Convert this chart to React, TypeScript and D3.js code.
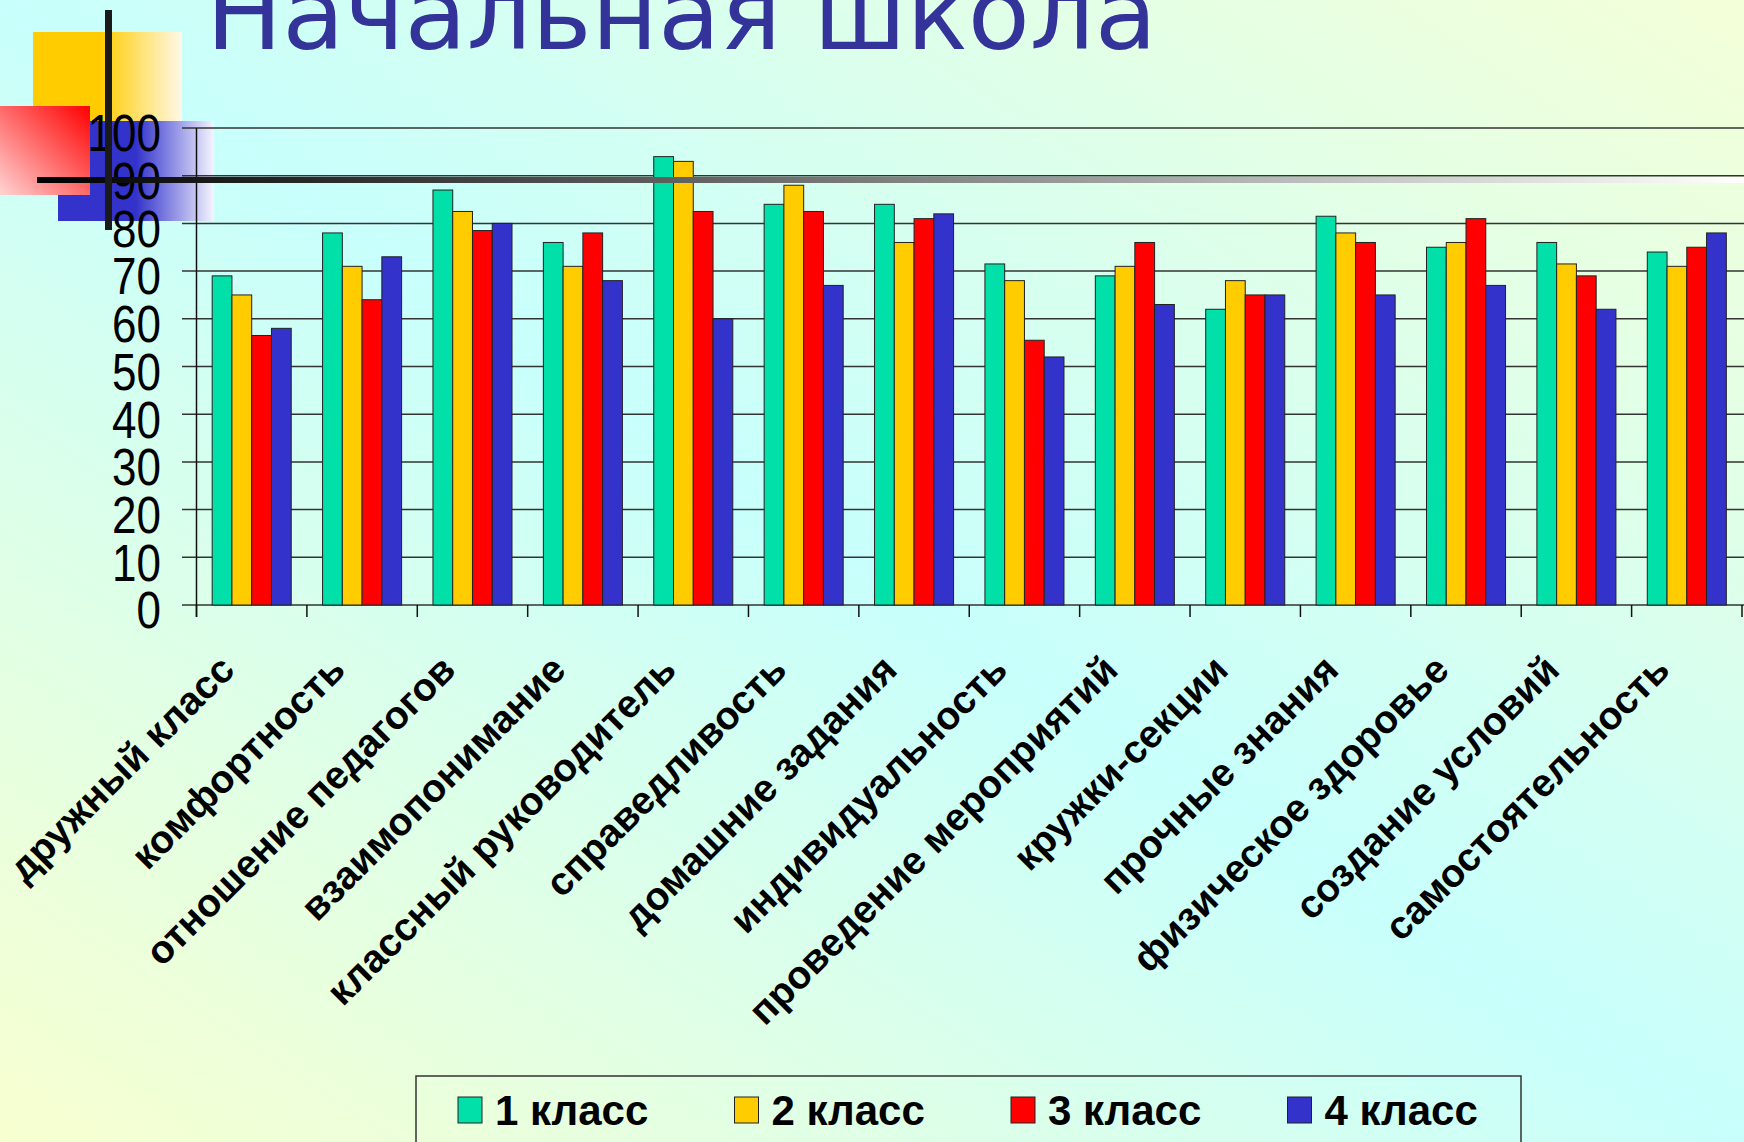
import React, { useEffect } from 'react'
import * as d3 from 'd3'

// categories and values
const categories = [
	'дружный класс',
	'комфортность',
	'отношение педагогов',
	'взаимопонимание',
	'классный руководитель',
	'справедливость',
	'домашние задания',
	'индивидуальность',
	'проведение мероприятий',
	'кружки-секции',
	'прочные знания',
	'физическое здоровье',
	'создание условий',
	'самостоятельность',
]
const seriesNames = ['1 класс', '2 класс', '3 класс', '4 класс']
const grade1 = [69, 78, 87, 76, 94, 84, 84, 71.5, 69, 62, 81.5, 75, 76, 74]
const grade2 = [65, 71, 82.5, 71, 93, 88, 76, 68, 71, 68, 78, 76, 71.5, 71]
const grade3 = [56.5, 64, 78.5, 78, 82.5, 82.5, 81, 55.5, 76, 65, 76, 81, 69, 75]
const grade4 = [58, 73, 80, 68, 60, 67, 82, 52, 63, 65, 65, 67, 62, 78]
const yTicks = [0, 10, 20, 30, 40, 50, 60, 70, 80, 90, 100]
const colors = ['#00E0A8', '#FFCC00', '#FF0000', '#3333CC']

const W = 1744
const H = 1142

const App = () => {
	useEffect(() => {
		document.body.style.margin = '0'
	}, [])

	const series = [grade1, grade2, grade3, grade4]
	const x0 = d3.scaleBand().domain(categories).range([196.5, 1742]).paddingInner(0.284).paddingOuter(0.142)
	const x1 = d3.scaleBand().domain(seriesNames).range([0, x0.bandwidth()])
	const y = d3.scaleLinear().domain([0, 100]).range([605, 128])
	const step = x0.step()
	const left = x0.range()[0]

	return (
		<svg width={W} height={H} style={{ display: 'block' }}>
			<defs>
				<linearGradient id="bg" x1="0" y1="1" x2="1" y2="0">
					<stop offset="0" stopColor="#f8ffd0" />
					<stop offset="0.5" stopColor="#c8fffc" />
					<stop offset="1" stopColor="#f4ffd8" />
				</linearGradient>
				<linearGradient id="yel" x1="0" y1="0" x2="1" y2="0">
					<stop offset="0.45" stopColor="#FFCC00" />
					<stop offset="1" stopColor="#fff8e8" />
				</linearGradient>
				<linearGradient id="blu" x1="0" y1="0" x2="1" y2="0">
					<stop offset="0.5" stopColor="#3333CC" />
					<stop offset="1" stopColor="#f4f4ff" />
				</linearGradient>
				<linearGradient id="red" x1="1" y1="0" x2="0" y2="1">
					<stop offset="0" stopColor="#FF0000" />
					<stop offset="1" stopColor="#ffd4d4" />
				</linearGradient>
				<linearGradient id="bar" x1="0" y1="0" x2="1" y2="0">
					<stop offset="0" stopColor="#000" />
					<stop offset="1" stopColor="#fff" />
				</linearGradient>
			</defs>
			<rect width={W} height={H} fill="url(#bg)" />

			<text
				x={206}
				y={49}
				fontFamily="DejaVu Sans, Verdana, sans-serif"
				fontSize={100}
				fill="#333399"
				textLength={951}
				lengthAdjust="spacingAndGlyphs"
			>
				Начальная школа
			</text>

			{/* decorative squares */}
			<rect x={33} y={32} width={149} height={120} fill="url(#yel)" />
			<rect x={58} y={121} width={156} height={100} fill="url(#blu)" />
			<rect x={0} y={106} width={90} height={89} fill="url(#red)" />

			{/* gridlines */}
			{yTicks.map(t => (
				<line key={t} x1={182} x2={W} y1={y(t)} y2={y(t)} stroke="#333" strokeWidth={1.5} />
			))}
			<line x1={left} x2={left} y1={y(100)} y2={617} stroke="#111" strokeWidth={1.5} />
			{d3.range(categories.length + 1).map(i => (
				<line
					key={i}
					x1={left + i * step}
					x2={left + i * step}
					y1={y(0)}
					y2={617}
					stroke="#111"
					strokeWidth={1.5}
				/>
			))}

			{/* bars */}
			{series.map((vals, si) =>
				vals.map((v, ci) => (
					<rect
						key={si + '-' + ci}
						x={x0(categories[ci]) + x1(seriesNames[si])}
						y={y(v)}
						width={x1.bandwidth()}
						height={y(0) - y(v)}
						fill={colors[si]}
						stroke="#222"
						strokeWidth={1}
					/>
				))
			)}

			{/* y labels */}
			{yTicks.map(t => (
				<text
					key={t}
					transform={`translate(161,${y(t) + 5}) scale(1,1.18)`}
					textAnchor="end"
					dominantBaseline="central"
					fontFamily="Liberation Sans, Arial, sans-serif"
					fontSize={44}
					fill="#000"
				>
					{t}
				</text>
			))}

			{/* category labels */}
			{categories.map(c => (
				<text
					key={c}
					transform={`translate(${x0(c) + x0.bandwidth() / 2 - 15},${672}) rotate(-45)`}
					textAnchor="end"
					fontFamily="Liberation Sans, Arial, sans-serif"
					fontWeight="bold"
					fontSize={39}
					fill="#000"
				>
					{c}
				</text>
			))}

			{/* legend */}
			<rect x={416} y={1076} width={1105} height={80} fill="none" stroke="#333" strokeWidth={1.5} />
			{seriesNames.map((s, i) => (
				<g key={s} transform={`translate(${458 + i * 276.5},1097)`}>
					<rect width={24} height={26} fill={colors[i]} stroke="#222" strokeWidth={1} />
					<text
						x={37}
						y={28}
						fontFamily="Liberation Sans, Arial, sans-serif"
						fontWeight="bold"
						fontSize={42}
						fill="#000"
					>
						{s}
					</text>
				</g>
			))}

			{/* slide lines */}
			<rect x={37} y={177} width={W - 37} height={6} fill="url(#bar)" />
			<rect x={105} y={10} width={7} height={220} fill="#1a1a1a" />
		</svg>
	)
}

export default App
